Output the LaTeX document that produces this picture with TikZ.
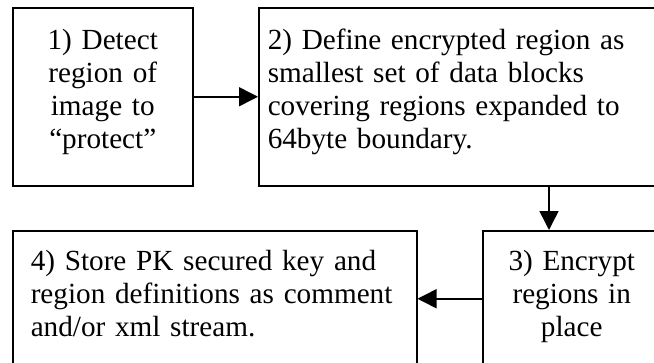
\documentclass[tikz,border=0pt]{standalone}
\usepackage{fontspec}
\setmainfont{Liberation Serif}
\usetikzlibrary{arrows.meta}
\begin{document}
\begin{tikzpicture}[x=1pt,y=-1pt,
  box/.style={draw, line width=1.5pt, rectangle, inner sep=0pt, anchor=north west,
    font=\fontsize{29.2}{33}\selectfont},
  arr/.style={line width=1.5pt, -{Triangle[length=19pt,width=19pt]}}]
\useasboundingbox (0,0) rectangle (654,362);
\clip (0,0) rectangle (654,362);
\node[box, minimum width=180pt, minimum height=178pt, text width=176pt, align=center] (b1) at (12,7)
  {1) Detect\\ region of\\ image to\\ “protect”\rule[-16pt]{0pt}{0pt}};
\node[box, minimum width=402pt, minimum height=178pt, text width=384pt, align=left] (b2) at (258,7)
  {2) Define encrypted region as\\ smallest set of data blocks\\ covering regions expanded to\\ 64byte boundary.\rule[-16pt]{0pt}{0pt}};
\node[box, minimum width=178pt, minimum height=136pt, text width=174pt, align=center] (b3) at (482,230)
  {3) Encrypt\\ regions in\\ place\rule[-10pt]{0pt}{0pt}};
\node[box, minimum width=404pt, minimum height=136pt, text width=368pt, align=left] (b4) at (12,230)
  {4) Store PK secured key and\\ region definitions as comment\\ and/or xml stream.\rule[-10pt]{0pt}{0pt}};
\coordinate (dx) at (549,0);
\draw[arr] (b1.east) -- (b2.west);
\draw[arr] (b2.south -| dx) -- (b3.north -| dx);
\draw[arr] (b3.west) -- (b4.east);
\end{tikzpicture}
\end{document}
